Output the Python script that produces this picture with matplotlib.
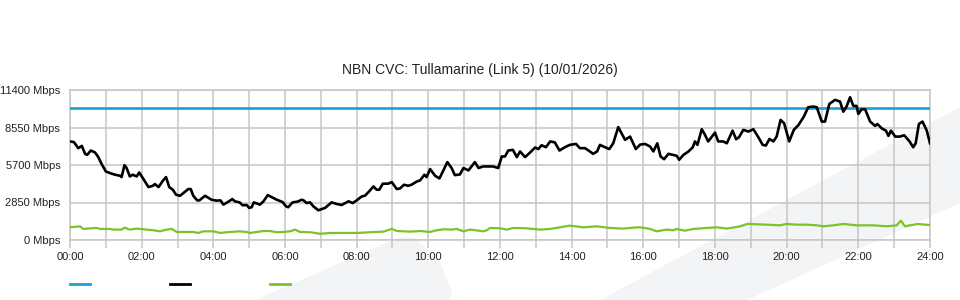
import numpy as np
import matplotlib.pyplot as plt
from matplotlib.patches import Polygon
from matplotlib.lines import Line2D

plt.rcParams['font.family'] = ['Liberation Sans', 'DejaVu Sans']

title = "NBN CVC: Tullamarine (Link 5) (10/01/2026)"

# capacity line (Mbps)
cap_hours = [0, 24]
cap_mbps = [10000, 10000]

# download traffic (hours since midnight, Mbps)
down_hours = [0.00, 0.11, 0.23, 0.33, 0.42, 0.48, 0.58, 0.70, 0.79, 0.88, 1.00, 1.12, 1.26, 1.40, 1.44,
              1.52, 1.58, 1.67, 1.75, 1.86, 1.93, 2.05, 2.19, 2.31, 2.37, 2.47, 2.60, 2.68, 2.77, 2.87,
              2.96, 3.07, 3.16, 3.30, 3.37, 3.44, 3.55, 3.61, 3.77, 3.95, 4.09, 4.20, 4.28, 4.39, 4.53,
              4.60, 4.73, 4.82, 4.93, 5.00, 5.07, 5.13, 5.23, 5.30, 5.40, 5.52, 5.63, 5.77, 5.93, 6.03,
              6.09, 6.21, 6.34, 6.47, 6.53, 6.60, 6.70, 6.79, 6.93, 7.12, 7.30, 7.44, 7.58, 7.77, 7.89,
              8.00, 8.14, 8.23, 8.35, 8.47, 8.56, 8.63, 8.73, 8.88, 8.98, 9.12, 9.21, 9.32, 9.44, 9.53,
              9.67, 9.77, 9.89, 9.95, 10.05, 10.19, 10.31, 10.42, 10.53, 10.65, 10.74, 10.88, 10.98, 11.12,
              11.30, 11.40, 11.53, 11.67, 11.81, 11.95, 12.05, 12.14, 12.23, 12.36, 12.47, 12.56, 12.70,
              12.84, 12.98, 13.07, 13.16, 13.28, 13.40, 13.53, 13.66, 13.81, 13.95, 14.12, 14.23, 14.37,
              14.47, 14.60, 14.71, 14.79, 14.93, 15.05, 15.16, 15.30, 15.40, 15.49, 15.63, 15.79, 15.91,
              16.05, 16.19, 16.28, 16.39, 16.48, 16.58, 16.70, 16.82, 16.93, 17.00, 17.12, 17.26, 17.38,
              17.44, 17.51, 17.63, 17.72, 17.81, 18.00, 18.09, 18.23, 18.33, 18.49, 18.59, 18.67, 18.79,
              18.93, 19.07, 19.21, 19.33, 19.42, 19.52, 19.63, 19.72, 19.83, 19.93, 20.07, 20.20, 20.33,
              20.48, 20.60, 20.74, 20.84, 20.98, 21.07, 21.19, 21.35, 21.49, 21.58, 21.67, 21.77, 21.86,
              21.95, 22.00, 22.09, 22.19, 22.33, 22.47, 22.53, 22.65, 22.77, 22.84, 22.91, 23.03, 23.16,
              23.28, 23.43, 23.53, 23.60, 23.69, 23.79, 23.91, 24.00]
down_mbps = [7490, 7440, 6980, 7150, 6550, 6470, 6800, 6650, 6300, 5790, 5210, 5080, 4960, 4880, 4780,
             5690, 5470, 4830, 4960, 4830, 5130, 4630, 4020, 4120, 4250, 4020, 4530, 4780, 4020, 3820,
             3440, 3360, 3560, 3870, 3870, 3360, 3010, 3010, 3360, 3060, 2990, 3010, 2690, 2860, 3110,
             2940, 2860, 2640, 2660, 2440, 2490, 2860, 2760, 2690, 2940, 3410, 3260, 3060, 2890, 2560,
             2490, 2860, 2910, 3060, 2990, 2810, 2860, 2560, 2260, 2440, 2860, 2740, 2660, 2940, 2810,
             3010, 3310, 3360, 3700, 4070, 3820, 3820, 4280, 4280, 4400, 3870, 3920, 4200, 4120, 4200,
             4430, 4530, 4960, 4780, 5390, 4880, 4680, 5290, 5920, 5470, 4930, 4980, 5470, 5290,
             5920, 5470, 5590, 5590, 5590, 5470, 6350, 6350, 6800, 6850, 6300, 6730, 6300,
             6650, 7030, 6910, 7200, 7050, 7490, 7420, 6800, 7050, 7230, 7300, 6980, 6980,
             6800, 6550, 6730, 7230, 7050, 6910, 7350, 8580, 8070, 7610, 7860, 6910, 7250,
             7300, 7100, 6730, 7350, 6350, 6140, 6550, 6470, 6400, 6100, 6470, 6730, 7050,
             7490, 7230, 8420, 7990, 7490, 8160, 7490, 7490, 7350, 8310, 7660, 7810, 8370,
             8240, 8420, 7810, 7230, 7180, 7680, 7490, 7860, 9130, 8870, 7490, 8370, 8740,
             9380, 10090, 10140, 10090, 9000, 9000, 10340, 10650, 10520, 9750, 10140, 10850, 10190,
             10190, 9580, 9930, 9930, 9000, 8670, 8820, 8490, 8310, 7910, 8310, 7860, 7860,
             7960, 7490, 7050, 7350, 8820, 9000, 8310, 7350]

# upload traffic
up_hours = [0.00, 0.28, 0.37, 0.74, 0.84, 1.12, 1.21, 1.44, 1.52, 1.67, 1.86, 2.14, 2.33, 2.51, 2.70,
            2.84, 2.98, 3.44, 3.58, 3.72, 4.00, 4.19, 4.37, 4.74, 4.93, 5.02, 5.21, 5.40, 5.58, 5.77,
            5.95, 6.14, 6.28, 6.42, 6.70, 6.84, 6.98, 7.26, 7.53, 8.00, 8.37, 8.74, 8.98, 9.12, 9.49,
            9.77, 10.05, 10.23, 10.42, 10.65, 10.79, 10.98, 11.16, 11.40, 11.53, 11.63, 11.72, 12.00,
            12.19, 12.37, 12.74, 13.12, 13.40, 13.67, 13.95, 14.33, 14.70, 15.07, 15.44, 15.72, 15.91,
            16.19, 16.37, 16.65, 16.84, 16.93, 17.16, 17.40, 17.77, 18.05, 18.33, 18.70, 18.91, 19.44,
            19.81, 20.00, 20.28, 20.56, 20.84, 21.02, 21.30, 21.58, 21.95, 22.42, 22.79, 23.07, 23.19,
            23.30, 23.44, 23.67, 23.86, 24.00]
up_mbps = [965, 1040, 840, 915, 840, 840, 790, 790, 940, 790, 865, 790, 740, 660, 790,
           840, 610, 610, 535, 660, 660, 535, 590, 660, 610, 535, 610, 685, 685, 590,
           610, 660, 790, 610, 590, 535, 470, 535, 535, 535, 590, 635, 840, 685, 635,
           685, 610, 740, 815, 790, 840, 660, 790, 710, 660, 740, 915, 890,
           790, 915, 890, 790, 840, 965, 1090, 965, 1040, 915, 865, 940, 965,
           840, 660, 790, 740, 840, 710, 840, 915, 965, 865, 1040, 1220, 1165,
           1115, 1220, 1165, 1165, 1115, 1040, 1115, 1220, 1115, 1115, 1040, 1115, 1470,
           1040, 1115, 1220, 1165, 1140]

y_ticks = [0, 2850, 5700, 8550, 11400]
x_ticks = list(range(0, 25, 2))
x_labels = ["%02d:00" % h for h in x_ticks]

grid_col = '#c6c6c6'
wm_col = '#f3f4f6'

fig = plt.figure(figsize=(9.6, 3), dpi=100)
W, H = 960.0, 300.0

# faint background watermark shapes
wm1 = [(255, 300), (400, 237), (415, 238), (440, 262), (452, 292), (450, 300)]
wm2 = [(600, 300), (960, 107), (960, 203), (747, 300)]
for pts in (wm1, wm2):
    fig.patches.append(Polygon([(x / W, 1 - y / H) for x, y in pts], closed=True,
                               transform=fig.transFigure, facecolor=wm_col, edgecolor='none', zorder=-5))

ax = fig.add_axes([70 / W, 60 / H, 860 / W, 150 / H])
ax.patch.set_alpha(0)

ax.plot(cap_hours, cap_mbps, color='#1a9fe0', lw=1.9, zorder=3)
ax.plot(down_hours, down_mbps, color='#000000', lw=1.9, zorder=4)
ax.plot(up_hours, up_mbps, color='#7dc12b', lw=1.6, zorder=3)

ax.set_xlim(0, 24)
ax.set_ylim(0, 11400)
ax.set_yticks(y_ticks)
ax.set_yticklabels(["%d Mbps" % v for v in y_ticks])
ax.set_xticks(x_ticks)
ax.set_xticklabels(x_labels)
ax.set_xticks(range(0, 25), minor=True)
ax.grid(True, which='both', color=grid_col, lw=1.1, zorder=1)
ax.tick_params(axis='y', length=0, pad=7, labelsize=8, labelcolor='#222222')
ax.tick_params(axis='x', which='both', length=6, width=1.1, color=grid_col, pad=3,
               labelsize=8, labelcolor='#222222')
for s in ax.spines.values():
    s.set_color(grid_col)
    s.set_linewidth(1.1)

fig.text(0.5, 1 - 70 / H, title, ha='center', va='center', fontsize=10, color='#222222')

handles = [Line2D([], [], color='#1a9fe0', lw=2),
           Line2D([], [], color='#000000', lw=2),
           Line2D([], [], color='#7dc12b', lw=2)]
fig.legend(handles, ['', '', ''], ncol=3, loc='center left', bbox_to_anchor=(70 / W, 1 - 285 / H),
           frameon=False, fontsize=8, handlelength=1.8, handletextpad=0.8, columnspacing=6.4,
           borderpad=0, borderaxespad=0)

fig.savefig('out.png', dpi=100)
